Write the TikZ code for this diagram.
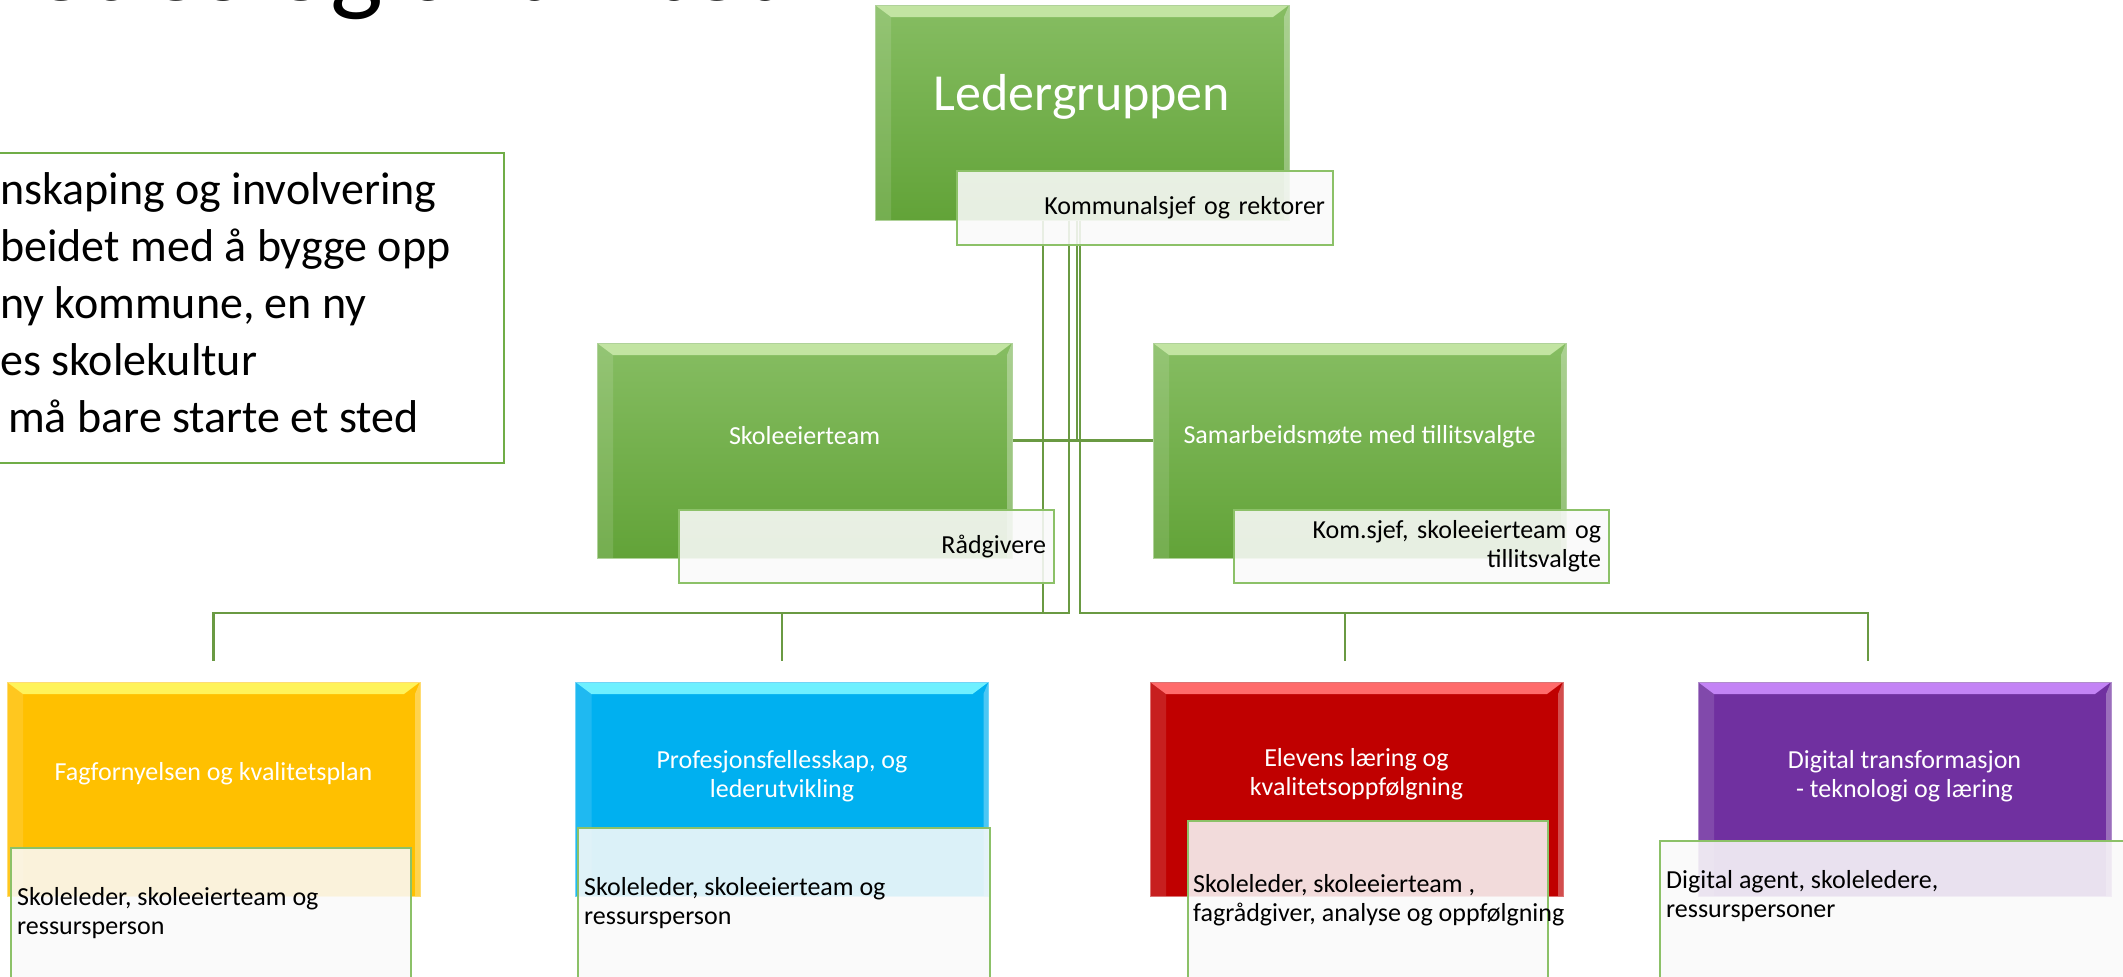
\documentclass[tikz,border=0pt]{standalone}
\usepackage{fontspec}
\setmainfont{Carlito}
\usetikzlibrary{calc}

\definecolor{ledgreen}{HTML}{70AD47}
\definecolor{grtop}{HTML}{86BD62}
\definecolor{grbot}{HTML}{62A338}
\definecolor{grhi}{HTML}{C2E4A2}
\definecolor{linkgreen}{HTML}{6A9A43}
\definecolor{subedge}{HTML}{8CC168}
\definecolor{fagyellow}{HTML}{FFC000}
\definecolor{faghi}{HTML}{FFF35A}
\definecolor{profblue}{HTML}{00B0F0}
\definecolor{profhi}{HTML}{6EF0FF}
\definecolor{elevred}{HTML}{C00000}
\definecolor{elevhi}{HTML}{FF6B6B}
\definecolor{digpurple}{HTML}{7030A0}
\definecolor{dighi}{HTML}{C383F5}

\begin{document}
\begin{tikzpicture}[x=1pt,y=-1pt,
    chip/.style 2 args={rectangle, inner sep=0pt, draw=#1!55!white, line width=1pt,
      path picture={
        \fill[#2] (path picture bounding box.north west) -- (path picture bounding box.north east)
          -- ([shift={(-16pt,-12pt)}]path picture bounding box.north east)
          -- ([shift={(16pt,-12pt)}]path picture bounding box.north west) -- cycle;
        \fill[white, opacity=0.12] (path picture bounding box.north west)
          -- ([shift={(16pt,-12pt)}]path picture bounding box.north west)
          -- ([shift={(16pt,0pt)}]path picture bounding box.south west)
          -- (path picture bounding box.south west) -- cycle;
        \fill[white, opacity=0.3] (path picture bounding box.north east)
          -- ([shift={(-5pt,-12pt)}]path picture bounding box.north east)
          -- ([shift={(-5pt,0pt)}]path picture bounding box.south east)
          -- (path picture bounding box.south east) -- cycle;
      }},
    greenbox/.style={chip={ledgreen}{grhi}, top color=grtop, bottom color=grbot,
      minimum width=414pt, minimum height=215pt},
    areabox/.style 2 args={chip={#1}{#2}, fill=#1, minimum width=413pt, minimum height=214pt},
    subbox/.style={rectangle, draw=subedge, line width=1.5pt, fill=black!2, fill opacity=0.88,
      text opacity=1, inner xsep=8pt, inner ysep=0pt, font=\fontsize{26}{29}\selectfont},
    whitetxt/.style={text=white, inner sep=0pt, align=center, font=\fontsize{26}{29}\selectfont},
    subtxt/.style={inner sep=0pt, align=left, font=\fontsize{26}{29}\selectfont},
    goaltxt/.style={inner sep=0pt, anchor=base west, font=\fontsize{46}{57}\selectfont},
    link/.style={draw=linkgreen, line width=2.5pt}
  ]

  % Page
  \path[use as bounding box, fill=white] (0,0) rectangle (2123,977);
  \clip (0,0) rectangle (2123,977);

  % Heading (cut at the top)
  \node[inner sep=0pt, anchor=base west, font=\fontsize{112}{130}\selectfont] (heading) at (6,1) {ledes og aktivitet};

  % Text box on the left
  \draw[ledgreen, line width=2pt] (-10,153) rectangle (504,463);
  \node[goaltxt] (goal1) at (0,204) {nskaping og involvering};
  \node[goaltxt] (goal2) at (0,261) {beidet med å bygge opp};
  \node[goaltxt] (goal3) at (0,318) {ny kommune, en ny};
  \node[goaltxt] (goal4) at (0,375) {es skolekultur};
  \node[goaltxt] (goal5) at (8,432) {må bare starte et sted};

  % Ledergruppen and the two side groups
  \node[greenbox] (led) at (1082,112.5) {};
  \node[text=white, inner sep=0pt, font=\fontsize{52}{60}\selectfont] (ledtxt) at (1082,97) {Ledergruppen};
  \node[greenbox, minimum width=415pt] (skole) at (804.5,450.5) {};
  \node[whitetxt] (skoletxt) at (804.5,436) {Skoleeierteam};
  \node[greenbox, minimum width=413pt] (samarb) at (1359.5,450.5) {};
  \node[whitetxt] (samarbtxt) at (1359.5,437) {Samarbeidsmøte med tillitsvalgte};

  % The four areas
  \node[areabox={fagyellow}{faghi}] (fag) at (213.5,789) {};
  \node[whitetxt] (fagtxt) at (213.5,774) {Fagfornyelsen og kvalitetsplan};
  \node[areabox={profblue}{profhi}] (prof) at (782,789) {};
  \node[whitetxt] (proftxt) at (782,776) {Profesjonsfellesskap, og\\lederutvikling};
  \node[areabox={elevred}{elevhi}] (elev) at (1356.5,789) {};
  \node[whitetxt] (elevtxt) at (1356.5,774.5) {Elevens læring og\\kvalitetsoppfølgning};
  \node[areabox={digpurple}{dighi}] (dig) at (1904.5,789) {};
  \node[whitetxt] (digtxt) at (1904.5,776) {Digital transformasjon\\- teknologi og læring};

  % Links
  \coordinate (bus) at (0,613);
  \draw[link] ([xshift=-39pt]led.south) |- (fag.north |- bus) -- ([yshift=21pt]fag.north);
  \draw[link] ([xshift=-13pt]led.south) |- (prof.north |- bus) -- ([yshift=21pt]prof.north);
  \draw[link] ([xshift=-2pt]led.south) |- ([xshift=-11.5pt]elev.north |- bus) -- ([shift={(-11.5pt,21pt)}]elev.north);
  \draw[link] ([xshift=-2pt]led.south) |- ([xshift=-36.5pt]dig.north |- bus) -- ([shift={(-36.5pt,21pt)}]dig.north);
  \draw[link] ([xshift=-5pt]led.south) |- ([yshift=10pt]samarb.west);
  \draw[link] ([yshift=10pt]skole.east) -- ([yshift=10pt]samarb.west);

  % Who takes part
  \node[subbox, minimum width=376pt, minimum height=74pt, text width=360pt, align=right] (komm) at (1145,208) {Kommunalsjef og rektorer};
  \node[subbox, minimum width=375pt, minimum height=73pt, text width=359pt, align=right] (raad) at (866.5,546.5) {Rådgivere};
  \node[subbox, minimum width=375pt, minimum height=73pt, text width=359pt, align=right] (komsjef) at (1421.5,546.5) {Kom.sjef, skoleeierteam og\\tillitsvalgte};

  \node[subbox, anchor=north west, minimum width=400pt, minimum height=150pt] (fagsub) at (10,847) {};
  \node[subtxt, anchor=west] (fagwho) at (17,913) {Skoleleder, skoleeierteam og\\ressursperson};
  \node[subbox, anchor=north west, minimum width=412pt, minimum height=170pt] (profsub) at (577,827) {};
  \node[subtxt, anchor=west] (profwho) at (584,903) {Skoleleder, skoleeierteam og\\ressursperson};
  \node[subbox, anchor=north west, minimum width=360pt, minimum height=177pt] (elevsub) at (1187,820) {};
  \node[subtxt, anchor=west] (elevwho) at (1193,900.5) {Skoleleder, skoleeierteam ,\\fagrådgiver, analyse og oppfølgning};
  \node[subbox, anchor=north west, minimum width=480pt, minimum height=157pt] (digsub) at (1659,840) {};
  \node[subtxt, anchor=west] (digwho) at (1666,896.5) {Digital agent, skoleledere,\\ressurspersoner};

\end{tikzpicture}
\end{document}
